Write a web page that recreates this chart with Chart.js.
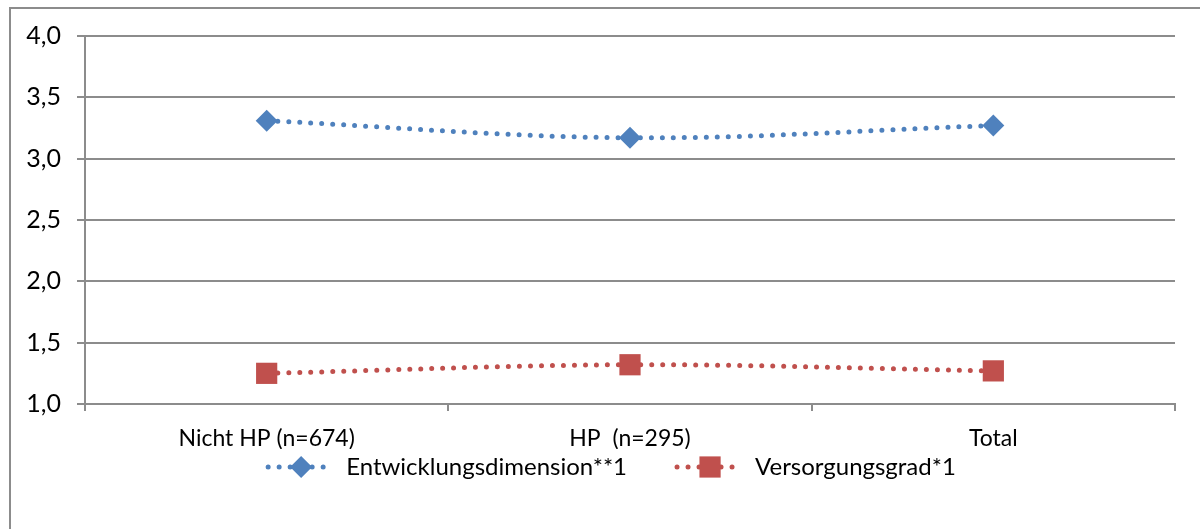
<!DOCTYPE html>
<html>
<head>
<meta charset="utf-8">
<script src="https://cdn.jsdelivr.net/npm/chart.js@4.4.1/dist/chart.umd.min.js"></script>
<style>
  html, body { margin: 0; padding: 0; background: #fff; overflow: hidden; }
  #box { position: absolute; left: 9px; top: 7px; width: 1215px; height: 545px; border: 2px solid #8c8c8c; box-sizing: border-box; }
  #wrap { position: absolute; left: 0; top: 0; width: 1200px; height: 529px; }
</style>
</head>
<body>
<div id="box"></div>
<div id="wrap"><canvas id="chart" width="1200" height="529"></canvas></div>
<script>
// data
var categories = ['Nicht HP (n=674)', 'HP  (n=295)', 'Total'];
var entwicklung = [3.31, 3.17, 3.27];
var versorgung = [1.25, 1.32, 1.27];
var seriesNames = ['Entwicklungsdimension**1', 'Versorgungsgrad*1'];
var yMin = 1.0, yMax = 4.0, yStep = 0.5;

var BLUE = '#4F81BD', RED = '#C0504D', GRID = '#8c8c8c';
var FONT = 'Lato, "Open Sans", sans-serif';

// legend drawn by hand: dotted line with marker in the middle
var legendPlugin = {
  id: 'dotLegend',
  afterDraw: function (chart) {
    var ctx = chart.ctx;
    var y = 467, lineLen = 66, gap = 12, itemGap = 50;
    ctx.save();
    ctx.font = '24px ' + FONT;
    var widths = chart.data.datasets.map(function (ds) { return ctx.measureText(ds.label).width; });
    var total = 0;
    widths.forEach(function (w) { total += lineLen + gap + w; });
    total += itemGap * (widths.length - 1);
    var x = 612 - total / 2;
    chart.data.datasets.forEach(function (ds, i) {
      ctx.strokeStyle = ds.borderColor;
      ctx.lineWidth = 5;
      ctx.lineCap = 'round';
      ctx.setLineDash([0, 11]);
      ctx.beginPath();
      ctx.moveTo(x, y);
      ctx.lineTo(x + lineLen, y);
      ctx.stroke();
      ctx.setLineDash([]);
      ctx.fillStyle = ds.backgroundColor;
      ctx.beginPath();
      if (ds.pointStyle === 'rectRot') {
        var r = ds.pointRadius;
        ctx.moveTo(x + lineLen / 2, y - r);
        ctx.lineTo(x + lineLen / 2 + r, y);
        ctx.lineTo(x + lineLen / 2, y + r);
        ctx.lineTo(x + lineLen / 2 - r, y);
      } else {
        var s = ds.pointRadius * Math.SQRT1_2;
        ctx.rect(x + lineLen / 2 - s, y - s, 2 * s, 2 * s);
      }
      ctx.closePath();
      ctx.fill();
      ctx.fillStyle = '#000';
      ctx.textBaseline = 'middle';
      ctx.textAlign = 'left';
      ctx.fillText(ds.label, x + lineLen + gap, y);
      x += lineLen + gap + widths[i] + itemGap;
    });
    ctx.restore();
  }
};

new Chart(document.getElementById('chart'), {
  type: 'line',
  data: {
    labels: categories,
    datasets: [
      {
        label: seriesNames[0],
        data: entwicklung,
        borderColor: BLUE,
        backgroundColor: BLUE,
        borderWidth: 5,
        borderDash: [0, 11],
        borderCapStyle: 'round',
        tension: 0.35,
        pointStyle: 'rectRot',
        pointRadius: 11,
        pointBorderWidth: 0,
        pointBackgroundColor: BLUE
      },
      {
        label: seriesNames[1],
        data: versorgung,
        borderColor: RED,
        backgroundColor: RED,
        borderWidth: 5,
        borderDash: [0, 11],
        borderCapStyle: 'round',
        tension: 0.35,
        pointStyle: 'rect',
        pointRadius: 15,
        pointBorderWidth: 0,
        pointBackgroundColor: RED
      }
    ]
  },
  options: {
    responsive: false,
    animation: false,
    layout: { padding: { top: 36, right: 25, bottom: 80, left: 0 } },
    plugins: {
      legend: { display: false },
      tooltip: { enabled: false }
    },
    scales: {
      x: {
        offset: true,
        grid: { offset: true, drawOnChartArea: false, drawTicks: true, tickLength: 7, color: GRID, lineWidth: 2 },
        border: { color: GRID, width: 2 },
        ticks: { font: { family: FONT, size: 23 }, color: '#000', padding: 14 },
        afterFit: function (s) { s.height = 45; }
      },
      y: {
        min: yMin,
        max: yMax,
        grid: { color: GRID, lineWidth: 2, tickLength: 8 },
        border: { color: GRID, width: 2 },
        ticks: {
          stepSize: yStep,
          font: { family: FONT, size: 25 },
          color: '#000',
          padding: 16,
          callback: function (v) { return v.toFixed(1).replace('.', ','); }
        },
        afterFit: function (s) { s.width = 85; }
      }
    }
  },
  plugins: [legendPlugin]
});
</script>
</body>
</html>
